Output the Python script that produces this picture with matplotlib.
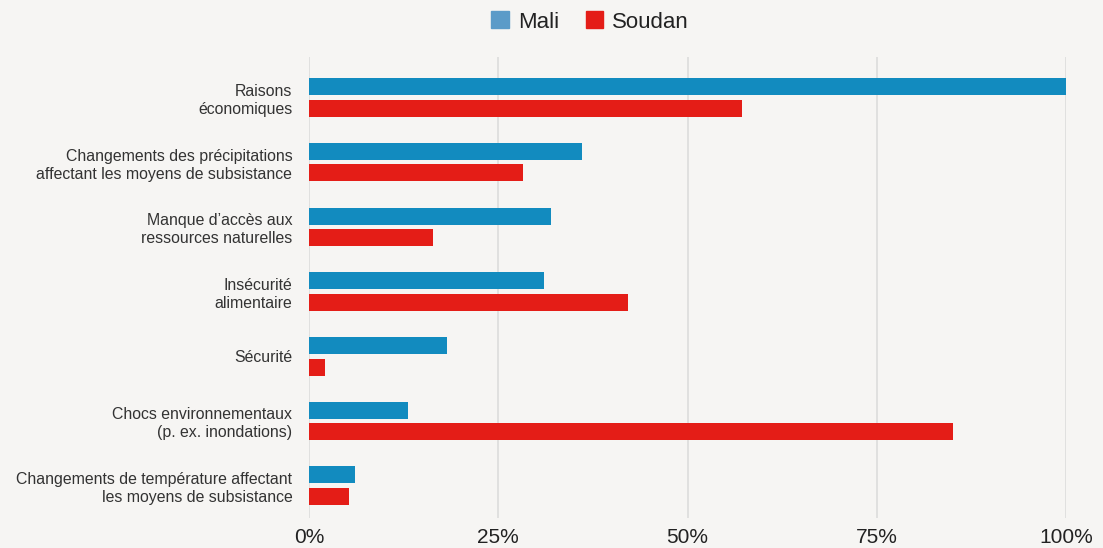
import numpy as np
import matplotlib.pyplot as plt
from matplotlib.patches import Patch

categories = [
    "Raisons\néconomiques",
    "Changements des précipitations\naffectant les moyens de subsistance",
    "Manque d\u2019accès aux\nressources naturelles",
    "Insécurité\nalimentaire",
    "Sécurité",
    "Chocs environnementaux\n(p. ex. inondations)",
    "Changements de température affectant\nles moyens de subsistance",
]
mali = [100, 36.1, 32.0, 31.0, 18.2, 13.1, 6.1]
soudan = [57.2, 28.3, 16.4, 42.1, 2.1, 85.1, 5.3]
xticks = [0, 25, 50, 75, 100]
xtick_labels = ["0%", "25%", "50%", "75%", "100%"]

bg = "#f6f5f3"
blue = "#128bbf"
red = "#e41d17"

plt.rcParams['font.family'] = ['Liberation Sans', 'DejaVu Sans']

fig = plt.figure(figsize=(11.03, 5.48), dpi=100, facecolor=bg)
ax = fig.add_axes([309 / 1103, 1 - 518 / 548, 757 / 1103, 461 / 548])
ax.set_facecolor(bg)

y = np.arange(len(categories))
h = 0.263
ax.barh(y - 0.166, mali, height=h, color=blue, zorder=3)
ax.barh(y + 0.166, soudan, height=h, color=red, zorder=3)

ax.set_xlim(0, 100)
ax.set_ylim(6.5, -0.626)
ax.set_xticks(xticks)
ax.set_xticklabels(xtick_labels, fontsize=15, color="#222222")
ax.set_yticks(y)
ax.set_yticklabels(categories, fontsize=11.4, color="#333333", linespacing=1.25)
for lab in ax.get_yticklabels():
    lab.set_horizontalalignment("right")
ax.tick_params(axis="x", length=0, pad=7)
ax.tick_params(axis="y", length=0, pad=12)
ax.grid(axis="x", color="#dcdcdc", linewidth=1.2, zorder=0)
for s in ax.spines.values():
    s.set_visible(False)

handles = [Patch(color="#5b9bc8", label="Mali"), Patch(color=red, label="Soudan")]
fig.legend(handles=handles, loc="center", bbox_to_anchor=(0.535, 1 - 22 / 548),
           ncol=2, frameon=False, fontsize=16, handlelength=0.8, handleheight=0.8,
           handletextpad=0.4, columnspacing=1.2, labelcolor="#222222")

fig.savefig("out.png", dpi=100, facecolor=bg)
